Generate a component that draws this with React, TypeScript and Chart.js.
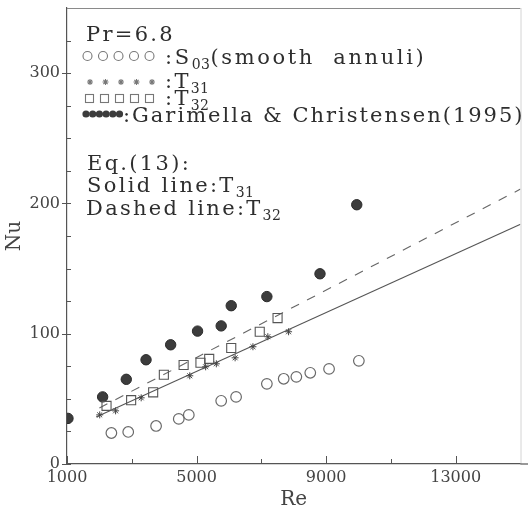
import React, { useEffect, useRef } from "react";
import { Chart, registerables } from "chart.js";
Chart.register(...registerables);

// S03 (smooth annuli) - open circles
const s03Re = [2370, 2890, 3750, 4450, 4760, 5760, 6220, 7170, 7690, 8080, 8510, 9090, 10010];
const s03Nu = [23.8, 24.6, 29.2, 34.6, 37.7, 48.5, 51.5, 61.5, 65.4, 66.9, 70, 73, 79.2];
// T31 - stars
const t31Re = [2010, 2500, 3290, 4790, 5280, 5610, 6190, 6740, 7200, 7840];
const t31Nu = [37.7, 40.8, 50.8, 67.7, 74.6, 76.9, 81.5, 90, 97.7, 101.5];
// T32 - squares
const t32Re = [2220, 2980, 3660, 3990, 4600, 5120, 5390, 6070, 6950, 7500];
const t32Nu = [44.6, 49, 55, 68.5, 76, 77.7, 80.7, 89, 101.5, 112];
// Garimella & Christensen (1995) - filled circles
const gcRe = [1030, 2100, 2830, 3440, 4200, 5030, 5760, 6070, 7170, 8810, 9945];
const gcNu = [35, 51.5, 65, 80, 91.5, 102, 106, 121.5, 128.5, 146, 199];
// Eq.(13) lines
const solidRe = [1900, 15000];
const solidNu = [36, 184];
const dashedRe = [2000, 15000];
const dashedNu = [43, 211];

const xTicks = [1000, 5000, 9000, 13000];
const xMinorTicks = [3000, 7000, 11000];
const yTicks = [0, 100, 200, 300];
const yMinorTicks = [25, 50, 75, 125, 150, 175, 225, 250, 275, 325];

const FONT = '"DejaVu Serif", "Liberation Serif", serif';
const TEXT = "#2e2e2e";

const pts = (xs: number[], ys: number[]) => xs.map((x, i) => ({ x, y: ys[i] }));

type Seg = { t: string; sub?: boolean };

function drawRich(ctx: CanvasRenderingContext2D, segs: Seg[], x: number, y: number, size: number, spacing = 2.3) {
  let cx = x;
  for (const s of segs) {
    const fs = s.sub ? Math.round(size * 0.66) : size;
    ctx.font = `${fs}px ${FONT}`;
    (ctx as any).letterSpacing = s.sub ? "0.5px" : `${spacing}px`;
    ctx.fillText(s.t, cx, s.sub ? y + 5 : y);
    cx += ctx.measureText(s.t).width;
  }
  (ctx as any).letterSpacing = "0px";
}

const annotPlugin = {
  id: "annot",
  afterDraw(chart: any) {
    const ctx: CanvasRenderingContext2D = chart.ctx;
    const xs = chart.scales.x;
    const ys = chart.scales.y;
    const ca = chart.chartArea;
    ctx.save();
    // frame
    ctx.strokeStyle = "#8a8a8a";
    ctx.lineWidth = 1;
    ctx.beginPath();
    ctx.moveTo(ca.left, ca.top + 0.5);
    ctx.lineTo(ca.right, ca.top + 0.5);
    ctx.stroke();
    ctx.strokeStyle = "#d4d4d4";
    ctx.beginPath();
    ctx.moveTo(ca.right + 0.5, ca.top);
    ctx.lineTo(ca.right + 0.5, ca.bottom);
    ctx.stroke();
    ctx.strokeStyle = "#555";
    ctx.lineWidth = 1.2;
    ctx.beginPath();
    ctx.moveTo(ca.right, ca.bottom);
    ctx.lineTo(chart.width, ca.bottom);
    ctx.stroke();
    // ticks
    ctx.strokeStyle = "#555";
    ctx.lineWidth = 1;
    ctx.beginPath();
    for (const v of xTicks) {
      const px = Math.round(xs.getPixelForValue(v)) + 0.5;
      ctx.moveTo(px, ca.bottom);
      ctx.lineTo(px, ca.bottom - 8);
    }
    for (const v of xMinorTicks) {
      const px = Math.round(xs.getPixelForValue(v)) + 0.5;
      ctx.moveTo(px, ca.bottom);
      ctx.lineTo(px, ca.bottom - 5);
    }
    for (const v of yTicks) {
      const py = Math.round(ys.getPixelForValue(v)) + 0.5;
      ctx.moveTo(ca.left - 5, py);
      ctx.lineTo(ca.left + 4, py);
    }
    for (const v of yMinorTicks) {
      const py = Math.round(ys.getPixelForValue(v)) + 0.5;
      ctx.moveTo(ca.left, py);
      ctx.lineTo(ca.left + 4, py);
    }
    ctx.stroke();

    // legend / annotation text
    ctx.fillStyle = TEXT;
    ctx.textBaseline = "alphabetic";
    ctx.textAlign = "left";
    const sz = 21;
    drawRich(ctx, [{ t: "Pr=6.8" }], 86, 41, sz);
    drawRich(ctx, [{ t: ":S" }, { t: "03", sub: true }, { t: "(smooth  annuli)" }], 165, 64, sz, 2.6);
    drawRich(ctx, [{ t: ":T" }, { t: "31", sub: true }], 165, 88, sz);
    drawRich(ctx, [{ t: ":T" }, { t: "32", sub: true }], 165, 105, sz);
    drawRich(ctx, [{ t: ":Garimella & Christensen(1995)" }], 123, 122, sz, 2.0);
    drawRich(ctx, [{ t: "Eq.(13):" }], 87, 170, sz);
    drawRich(ctx, [{ t: "Solid line:T" }, { t: "31", sub: true }], 87, 192, sz);
    drawRich(ctx, [{ t: "Dashed line:T" }, { t: "32", sub: true }], 86, 215, sz);

    // legend markers
    ctx.lineWidth = 1.1;
    ctx.strokeStyle = "#777";
    for (let i = 0; i < 5; i++) {
      ctx.beginPath();
      ctx.arc(87.5 + i * 15.5, 56, 4.5, 0, Math.PI * 2);
      ctx.stroke();
    }
    for (let i = 0; i < 5; i++) {
      const cx = 90 + i * 15.5;
      const cy = 82;
      const r = 3;
      ctx.beginPath();
      for (let k = 0; k < 4; k++) {
        const a = (k * Math.PI) / 4;
        ctx.moveTo(cx - r * Math.cos(a), cy - r * Math.sin(a));
        ctx.lineTo(cx + r * Math.cos(a), cy + r * Math.sin(a));
      }
      ctx.stroke();
    }
    for (let i = 0; i < 5; i++) {
      ctx.strokeRect(85.5 + i * 15, 94.5, 8, 8);
    }
    ctx.fillStyle = "#3c3c3c";
    for (let i = 0; i < 6; i++) {
      ctx.beginPath();
      ctx.arc(86 + i * 6.7, 114, 3.6, 0, Math.PI * 2);
      ctx.fill();
    }
    ctx.restore();
  },
};

export default function App() {
  const ref = useRef<HTMLCanvasElement | null>(null);
  useEffect(() => {
    if (!ref.current) return;
    const chart = new Chart(ref.current, {
      type: "scatter",
      data: {
        datasets: [
          {
            label: "S03",
            data: pts(s03Re, s03Nu),
            pointStyle: "circle",
            pointRadius: 5.3,
            backgroundColor: "rgba(255,255,255,0)",
            borderColor: "#6a6a6a",
            borderWidth: 1.2,
          },
          {
            label: "T31",
            data: pts(t31Re, t31Nu),
            pointStyle: "star",
            pointRadius: 3.5,
            borderColor: "#444",
            borderWidth: 1,
          },
          {
            label: "T32",
            data: pts(t32Re, t32Nu),
            pointStyle: "rect",
            pointRadius: 6.4,
            backgroundColor: "rgba(255,255,255,0)",
            borderColor: "#555",
            borderWidth: 1.1,
          },
          {
            label: "Garimella & Christensen(1995)",
            data: pts(gcRe, gcNu),
            pointStyle: "circle",
            pointRadius: 5.2,
            backgroundColor: "#3c3c3c",
            borderColor: "#2a2a2a",
            borderWidth: 1,
          },
          {
            label: "Solid line:T31",
            data: pts(solidRe, solidNu),
            showLine: true,
            pointRadius: 0,
            borderColor: "#555",
            borderWidth: 1.1,
          },
          {
            label: "Dashed line:T32",
            data: pts(dashedRe, dashedNu),
            showLine: true,
            pointRadius: 0,
            borderColor: "#666",
            borderWidth: 1.1,
            borderDash: [9, 9],
          },
        ],
      },
      options: {
        animation: false,
        responsive: false,
        events: [],
        layout: { padding: { top: 8, right: 6, left: 0, bottom: 0 } },
        plugins: { legend: { display: false }, tooltip: { enabled: false } },
        scales: {
          x: {
            type: "linear",
            min: 1000,
            max: 15000,
            afterBuildTicks: (s: any) => {
              s.ticks = xTicks.map((v) => ({ value: v }));
            },
            afterFit: (s: any) => {
              s.height = 46;
              s.paddingLeft = 0;
              s.paddingRight = 0;
            },
            grid: { display: false, drawTicks: false },
            border: { display: true, color: "#555", width: 1.2 },
            ticks: {
              font: { family: FONT, size: 16 },
              color: "#444",
              padding: 4,
              maxRotation: 0,
              autoSkip: false,
              callback: (v: any) => String(v),
            },
            title: {
              display: true,
              text: "Re",
              color: "#444",
              font: { family: FONT, size: 20, lineHeight: 1 },
              padding: { top: 0, bottom: 0 },
            },
          },
          y: {
            type: "linear",
            min: 0,
            max: 350,
            afterBuildTicks: (s: any) => {
              s.ticks = yTicks.map((v) => ({ value: v }));
            },
            afterFit: (s: any) => {
              s.width = 67;
              s.paddingTop = 0;
              s.paddingBottom = 0;
            },
            grid: { display: false, drawTicks: false },
            border: { display: true, color: "#555", width: 1.2 },
            ticks: {
              font: { family: FONT, size: 16 },
              color: "#444",
              padding: 7,
              autoSkip: false,
              callback: (v: any) => String(v),
            },
            title: {
              display: true,
              text: "Nu",
              color: "#444",
              font: { family: FONT, size: 20, lineHeight: 1 },
              padding: { top: 5, bottom: 0 },
            },
          },
        },
      },
      plugins: [annotPlugin],
    });
    return () => chart.destroy();
  }, []);
  return (
    <div style={{ position: "fixed", left: 0, top: 0, width: 528, height: 510, background: "#fff" }}>
      <canvas ref={ref} width={528} height={510} style={{ width: 528, height: 510, display: "block" }} />
    </div>
  );
}
